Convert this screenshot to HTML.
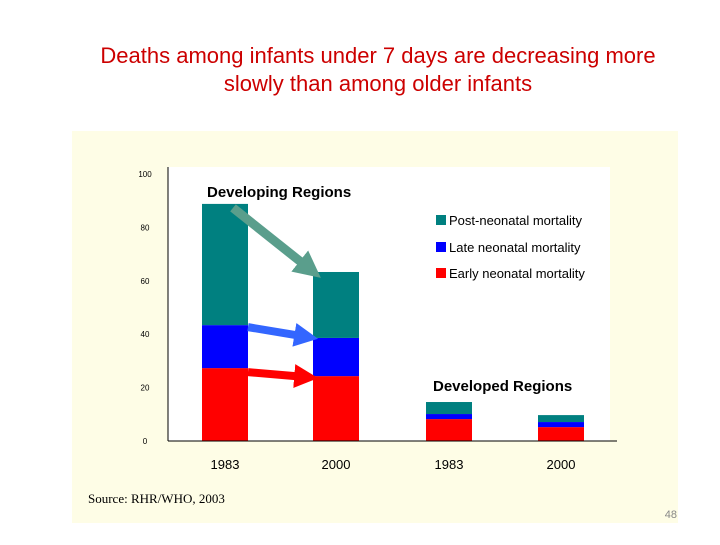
<!DOCTYPE html>
<html><head><meta charset="utf-8"><style>
body{margin:0;width:720px;height:540px;background:#fff;overflow:hidden;font-family:"Liberation Sans",sans-serif}
</style></head><body>
<svg width="720" height="540" xmlns="http://www.w3.org/2000/svg">
<defs>
<marker id="mt" markerWidth="3" markerHeight="3" refX="1.6" refY="1.5" orient="auto"><path d="M0,0L3,1.5L0,3z" fill="#5a9e8c"/></marker>
<marker id="mb" markerWidth="3" markerHeight="3" refX="1.6" refY="1.5" orient="auto"><path d="M0,0L3,1.5L0,3z" fill="#3366ff"/></marker>
<marker id="mr" markerWidth="3" markerHeight="3" refX="1.6" refY="1.5" orient="auto"><path d="M0,0L3,1.5L0,3z" fill="#ff0000"/></marker>
</defs>
<text x="378" y="63" text-anchor="middle" font-size="22" fill="#cc0000">Deaths among infants under 7 days are decreasing more</text>
<text x="378" y="91" text-anchor="middle" font-size="22" fill="#cc0000">slowly than among older infants</text>
<rect x="72" y="131" width="606" height="392" fill="#fefde6"/>
<rect x="168" y="167" width="442" height="274" fill="#fff"/>
<g id="chart"></g>
<text x="207" y="197" font-size="15" font-weight="bold" fill="#000">Developing Regions</text>
<text x="433" y="391" font-size="15" font-weight="bold" fill="#000">Developed Regions</text>
<g font-size="13">
<rect x="436" y="215" width="10" height="10" fill="#008080"/>
<text x="449" y="225">Post-neonatal mortality</text>
<rect x="436" y="242" width="10" height="10" fill="#0000ff"/>
<text x="449" y="252">Late neonatal mortality</text>
<rect x="436" y="268" width="10" height="10" fill="#ff0000"/>
<text x="449" y="278">Early neonatal mortality</text>
</g>
<text x="88" y="503" font-size="13" font-family="Liberation Serif, serif">Source:  RHR/WHO, 2003</text>
<text x="677" y="518" text-anchor="end" font-size="11" fill="#888">48</text>
</svg>
<script>
const categories=["1983","2000","1983","2000"];
const early=[27.3,24.3,8.2,5.2];
const late=[16.1,14.3,1.9,1.9];
const post=[45.4,24.7,4.5,2.6];
const yTicks=[0,20,40,60,80,100];
const barX=[202,313,426,538];
const NS="http://www.w3.org/2000/svg";
const g=document.getElementById('chart');
function y(v){return 441-v*2.67;}
const bw=46;
function mk(t,a){const e=document.createElementNS(NS,t);for(const k in a)e.setAttribute(k,a[k]);g.appendChild(e);return e;}
yTicks.forEach(t=>{const e=mk('text',{x:145,y:y(t)+3,'font-size':8,'text-anchor':'middle'});e.textContent=t;

});
categories.forEach((c,i)=>{
 let b=0;
 [[early,'#ff0000','early'],[late,'#0000ff','late'],[post,'#008080','post']].forEach(([arr,col,n])=>{
  const r=mk('rect',{x:barX[i],y:y(b+arr[i]),width:bw,height:arr[i]*2.67,fill:col});
  
  
  b+=arr[i];});
 const t=mk('text',{x:barX[i]+bw/2,y:469,'font-size':13,'text-anchor':'middle'});t.textContent=c;
 
 
});
mk('line',{x1:168,y1:167,x2:168,y2:441,stroke:'#000','stroke-width':1});
mk('line',{x1:168,y1:441,x2:617,y2:441,stroke:'#000','stroke-width':1});
const t0=early[0]+late[0]+post[0],t1=early[1]+late[1]+post[1];
const a1=mk('line',{x1:barX[0]+bw/2+8,y1:y(t0)+4,x2:barX[1]-2,y2:y(t1)-2,stroke:'#5a9e8c','stroke-width':9,'marker-end':'url(#mt)'});


const a2=mk('line',{x1:barX[0]+bw,y1:y(early[0]+late[0])+2,x2:barX[1]-6,y2:y(early[1]+late[1])-1,stroke:'#3366ff','stroke-width':8,'marker-end':'url(#mb)'});


const a3=mk('line',{x1:barX[0]+bw,y1:y(early[0])+4,x2:barX[1]-6,y2:y(early[1])+1,stroke:'#ff0000','stroke-width':8,'marker-end':'url(#mr)'});


</script>
</body></html>
